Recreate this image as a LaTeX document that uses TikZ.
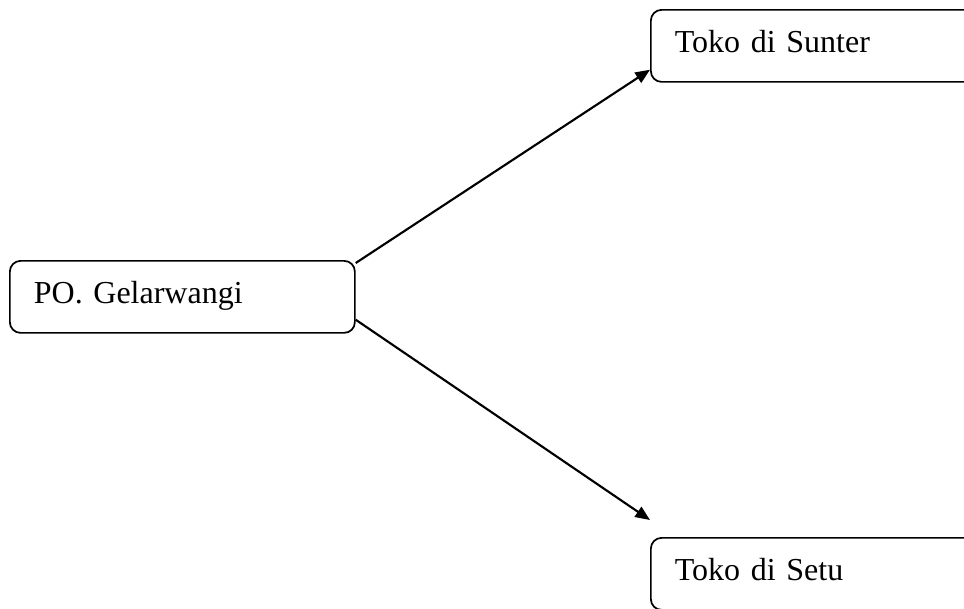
\documentclass[tikz,border=0pt]{standalone}
\usepackage{fontspec}
\setmainfont{Liberation Serif}
\usetikzlibrary{arrows.meta}
\begin{document}
\begin{tikzpicture}[x=0.75pt,y=-0.75pt,
  boxnode/.style={draw=black, line width=1.3pt, rounded corners=8pt,
    anchor=north west, minimum height=54pt, inner xsep=18pt, inner ysep=0pt,
    align=left, text height=15.9pt, text depth=6pt,
    font=\fontsize{24}{28}\selectfont},
  flow/.style={line width=1.6pt, -{Triangle[length=11pt,width=9pt]}}]
\clip (0,0) rectangle (964,608);
\node[boxnode, minimum width=258.75pt, text width=222.75pt] (gel) at (9,260) {PO. Gelarwangi};
\node[boxnode, minimum width=300pt, text width=264pt] (sunter) at (650,9) {Toko di Sunter};
\node[boxnode, minimum width=300pt, text width=264pt] (setu) at (650,537) {Toko di Setu};
\draw[flow] ([yshift=-2.25pt]gel.north east) -- ([yshift=9.75pt]sunter.south west);
\draw[flow] ([yshift=10.5pt]gel.south east) -- ([yshift=12.75pt]setu.north west);
\end{tikzpicture}
\end{document}
